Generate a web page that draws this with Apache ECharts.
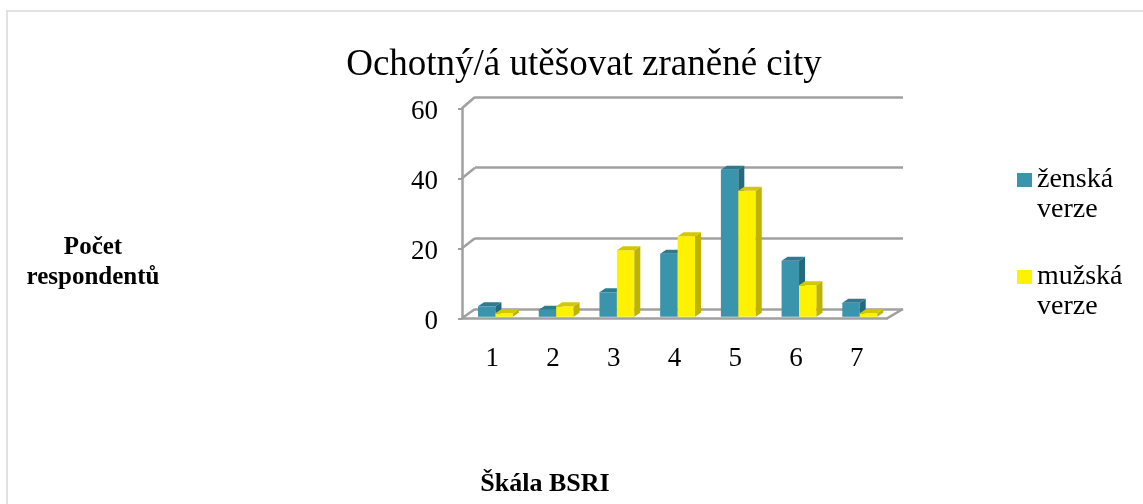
<!DOCTYPE html>
<html>
<head>
<meta charset="utf-8">
<script src="https://cdn.jsdelivr.net/npm/echarts@6/dist/echarts.min.js"></script>
<style>
  html, body { margin: 0; padding: 0; background: #fff; }
  #main { width: 1143px; height: 504px; }
</style>
</head>
<body>
<div id="main"></div>
<script>
// data
const categories = ['1', '2', '3', '4', '5', '6', '7'];
const zenska = [3, 2, 7, 18, 42, 16, 4];
const muzska = [1, 3, 19, 23, 36, 9, 1];
const yTicks = [0, 20, 40, 60];
const seriesNames = ['ženská verze', 'mužská verze'];

const FONT = 'Liberation Serif';
const GRID_COLOR = '#a0a0a0';
const faces = [
    { front: '#3a94ab', top: '#2e7b8f', side: '#256a7b' },
    { front: '#fff200', top: '#d3c800', side: '#bdb300' }
];

const chart = echarts.init(document.getElementById('main'));

// back wall point for a value (uses the hidden back grid)
function backPoint(x, v) {
    return chart.convertToPixel({ xAxisIndex: 1, yAxisIndex: 1 }, [x, v]);
}

function renderBar(s) {
    return function (params, api) {
        const c = api.value(0);
        const v = api.value(1);
        const base = api.coord([c, 0]);
        const topPt = api.coord([c, v]);
        const bw = api.size([1, 0])[0];
        const w = bw * 0.287;
        const x0 = base[0] - bw * 0.236 + s * w;
        const x1 = x0 + w;
        const yb = base[1] - 1.5;
        const yt = topPt[1] - 1.5;
        const dx = 6, dy = -4;
        const f = faces[s];
        return {
            type: 'group',
            children: [
                { type: 'rect', shape: { x: x0, y: yt, width: w, height: yb - yt }, style: { fill: f.front } },
                { type: 'polygon', shape: { points: [[x1, yt], [x1 + dx, yt + dy], [x1 + dx, yb + dy], [x1, yb]] }, style: { fill: f.side } },
                { type: 'polygon', shape: { points: [[x0, yt], [x0 + dx, yt + dy], [x1 + dx, yt + dy], [x1, yt]] }, style: { fill: f.top } }
            ]
        };
    };
}

// diagonal connectors from the front axis to the back wall, plus floor right edge
function renderFrame(params, api) {
    const v = api.value(0);
    const bw = api.size([1, 0])[0];
    const children = [];
    const front = api.coord([0, v]);
    const fx = front[0] - bw / 2;
    const b = backPoint(0, v);
    children.push({ type: 'line', shape: { x1: fx, y1: front[1], x2: b[0], y2: b[1] }, style: { stroke: GRID_COLOR, lineWidth: 2.5 } });
    if (v === 0) {
        const fr = api.coord([categories.length - 1, 0]);
        const br = backPoint(1, 0);
        children.push({ type: 'line', shape: { x1: fr[0] + bw / 2, y1: fr[1], x2: br[0], y2: br[1] }, style: { stroke: GRID_COLOR, lineWidth: 2.5 } });
    }
    return { type: 'group', children: children };
}

const option = {
    animation: false,
    backgroundColor: '#fff',
    title: [
        {
            text: 'Ochotný/á utěšovat zraněné city',
            left: 579, top: 42, textAlign: 'center',
            textStyle: { fontFamily: FONT, fontSize: 37, fontWeight: 'normal', color: '#000', lineHeight: 37 }
        },
        {
            text: 'Počet\nrespondentů',
            left: 88, top: 228, textAlign: 'center',
            textStyle: { fontFamily: FONT, fontSize: 25, fontWeight: 'bold', color: '#000', lineHeight: 30 }
        },
        {
            text: 'Škála BSRI',
            left: 540, top: 466, textAlign: 'center',
            textStyle: { fontFamily: FONT, fontSize: 26, fontWeight: 'bold', color: '#000' }
        }
    ],
    legend: {
        orient: 'vertical',
        left: 1012, top: 130,
        icon: 'rect',
        itemWidth: 15, itemHeight: 14,
        itemGap: 7,
        data: seriesNames,
        // empty first line keeps the square level with the first word
        formatter: function (name) { return '\n' + name.replace(' ', '\n'); },
        textStyle: { fontFamily: FONT, fontSize: 28, color: '#000', lineHeight: 30 }
    },
    graphic: [
        { type: 'rect', shape: { x: 7, y: 11, width: 1300, height: 700 }, style: { fill: 'none', stroke: '#d9d9d9', lineWidth: 1.5 }, silent: true, z: -10 }
    ],
    grid: [
        { left: 462, top: 108.3, width: 425, height: 210 },
        { left: 475, top: 97, width: 428, height: 212 }
    ],
    xAxis: [
        {
            type: 'category', gridIndex: 0, data: categories,
            axisLine: { lineStyle: { color: GRID_COLOR, width: 2.5 } },
            axisTick: { length: 8, lineStyle: { color: GRID_COLOR, width: 2 } },
            axisLabel: { fontFamily: FONT, fontSize: 27, color: '#000', margin: 27 }
        },
        {
            type: 'value', gridIndex: 1, min: 0, max: 1,
            show: false
        }
    ],
    yAxis: [
        {
            type: 'value', gridIndex: 0, min: 0, max: 60, interval: 20,
            axisLine: { show: true, lineStyle: { color: GRID_COLOR, width: 2.5 } },
            axisTick: { show: true, length: 4, lineStyle: { color: GRID_COLOR, width: 2 } },
            splitLine: { show: false },
            axisLabel: {
                margin: 24,
                formatter: '{a|{value}}',
                rich: { a: { fontFamily: FONT, fontSize: 27, color: '#000', padding: [8, 0, 0, 0] } }
            }
        },
        {
            type: 'value', gridIndex: 1, min: 0, max: 60, interval: 20,
            axisLine: { show: false }, axisTick: { show: false }, axisLabel: { show: false },
            splitLine: { show: true, lineStyle: { color: GRID_COLOR, width: 2.5 } }
        }
    ],
    series: [
        {
            type: 'custom', name: 'frame', xAxisIndex: 0, yAxisIndex: 0,
            renderItem: renderFrame, silent: true, z: 1,
            data: yTicks.map(v => [v])
        },
        {
            type: 'custom', name: seriesNames[0], xAxisIndex: 0, yAxisIndex: 0,
            renderItem: renderBar(0), z: 2,
            itemStyle: { color: faces[0].front },
            data: zenska.map((v, i) => [i, v])
        },
        {
            type: 'custom', name: seriesNames[1], xAxisIndex: 0, yAxisIndex: 0,
            renderItem: renderBar(1), z: 3,
            itemStyle: { color: faces[1].front },
            data: muzska.map((v, i) => [i, v])
        }
    ]
};

chart.setOption(option);
</script>
</body>
</html>
